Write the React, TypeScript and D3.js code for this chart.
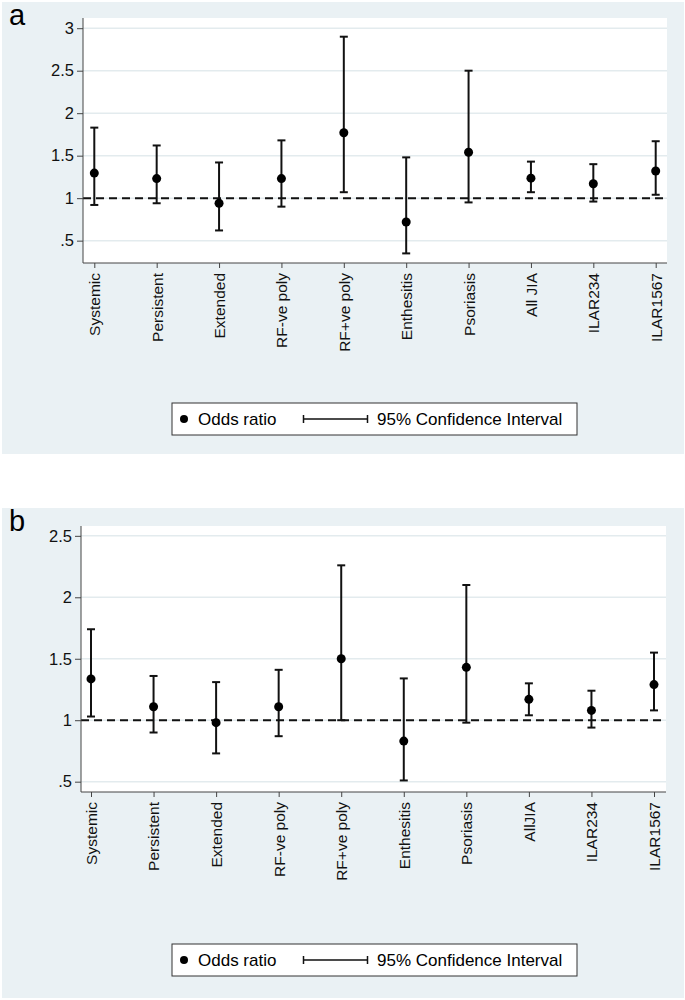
import { useEffect, useRef } from 'react';
import * as d3 from 'd3';

const groupsA = ['Systemic', 'Persistent', 'Extended', 'RF-ve poly', 'RF+ve poly', 'Enthesitis', 'Psoriasis', 'All JIA', 'ILAR234', 'ILAR1567'];
const groupsB = ['Systemic', 'Persistent', 'Extended', 'RF-ve poly', 'RF+ve poly', 'Enthesitis', 'Psoriasis', 'AllJIA', 'ILAR234', 'ILAR1567'];

const orA = [1.295, 1.23, 0.94, 1.23, 1.77, 0.72, 1.54, 1.235, 1.17, 1.32];
const loA = [0.92, 0.94, 0.62, 0.9, 1.07, 0.35, 0.95, 1.07, 0.96, 1.04];
const hiA = [1.83, 1.62, 1.42, 1.68, 2.9, 1.48, 2.5, 1.43, 1.4, 1.67];

const orB = [1.336, 1.11, 0.98, 1.11, 1.5, 0.83, 1.43, 1.17, 1.08, 1.29];
const loB = [1.03, 0.9, 0.73, 0.87, 1.0, 0.51, 0.98, 1.04, 0.94, 1.08];
const hiB = [1.74, 1.36, 1.31, 1.41, 2.26, 1.34, 2.1, 1.3, 1.24, 1.55];

const ticksA = [0.5, 1, 1.5, 2, 2.5, 3];
const ticksB = [0.5, 1, 1.5, 2, 2.5];

const FONT = '"Liberation Sans", Arial, Helvetica, sans-serif';
const BG = '#eaf1f4';
const GRID = '#e3ebee';

const fmt = (v) => (v < 1 ? String(v).replace(/^0/, '') : String(v));

function Panel({ letter, groups, or, lo, hi, ticks, domain, top, box, plot }) {
  const ref = useRef<SVGGElement>(null);

  useEffect(() => {
    if (!ref.current) return;
    const g = d3.select(ref.current);
    g.selectAll('*').remove();

    // panel background
    g.append('rect').attr('x', box.x).attr('y', box.y).attr('width', box.w).attr('height', box.h).attr('fill', BG);
    g.append('text').attr('x', box.x + 7).attr('y', box.y + 23).attr('font-size', 29).attr('font-family', FONT).text(letter);

    const x = d3.scalePoint().domain(groups).range([plot.x0, plot.x1]);
    const y = d3.scaleLinear().domain(domain).range([plot.bottom, plot.top]);

    g.append('rect').attr('x', plot.left).attr('y', plot.top).attr('width', plot.right - plot.left).attr('height', plot.bottom - plot.top).attr('fill', '#fff');

    g.selectAll('line.grid').data(ticks).enter().append('line').attr('class', 'grid')
      .attr('x1', plot.left).attr('x2', plot.right).attr('y1', (d) => y(d)).attr('y2', (d) => y(d))
      .attr('stroke', GRID).attr('stroke-width', 1.5);

    g.append('line').attr('x1', plot.left).attr('x2', plot.right).attr('y1', y(1)).attr('y2', y(1))
      .attr('stroke', '#111').attr('stroke-width', 2).attr('stroke-dasharray', '8,5');

    // axes
    const ya = g.append('g').attr('transform', `translate(${plot.left},0)`)
      .call(d3.axisLeft(y).tickValues(ticks).tickSize(6).tickPadding(3).tickFormat(fmt));
    ya.select('.domain').attr('d', `M0,${plot.top}V${plot.bottom}`).attr('stroke', '#444');
    ya.selectAll('line').attr('stroke', '#444');
    ya.selectAll('text').attr('font-size', 16.5).attr('font-family', FONT).attr('fill', '#111');

    const xa = g.append('g').attr('transform', `translate(0,${plot.bottom})`)
      .call(d3.axisBottom(x).tickSize(5).tickPadding(0));
    xa.select('.domain').attr('d', `M${plot.left},0H${plot.right}`).attr('stroke', '#444');
    xa.selectAll('line').attr('stroke', '#444');
    xa.selectAll('text').attr('font-size', 15.5).attr('font-family', FONT).attr('fill', '#111')
      .attr('transform', 'rotate(-90)').attr('text-anchor', 'end').attr('x', -10).attr('y', 0).attr('dy', '0.35em');

    // CI bars
    const idx = d3.range(groups.length);
    const bars = g.append('g').attr('stroke', '#111').attr('stroke-width', 2).attr('fill', 'none');
    bars.selectAll('line.v').data(idx).enter().append('line')
      .attr('x1', (i) => x(groups[i])).attr('x2', (i) => x(groups[i])).attr('y1', (i) => y(lo[i])).attr('y2', (i) => y(hi[i]));
    [lo, hi].forEach((arr) => {
      bars.selectAll(null).data(idx).enter().append('line')
        .attr('x1', (i) => x(groups[i]) - 4).attr('x2', (i) => x(groups[i]) + 4).attr('y1', (i) => y(arr[i])).attr('y2', (i) => y(arr[i]));
    });
    g.selectAll('circle.pt').data(idx).enter().append('circle')
      .attr('cx', (i) => x(groups[i])).attr('cy', (i) => y(or[i])).attr('r', 4.5).attr('fill', '#000');

    // legend
    const lg = g.append('g').attr('transform', `translate(172,${top})`);
    lg.append('rect').attr('width', 405).attr('height', 32).attr('fill', '#fff').attr('stroke', '#333').attr('stroke-width', 1);
    lg.append('circle').attr('cx', 12).attr('cy', 16).attr('r', 4).attr('fill', '#000');
    lg.append('text').attr('x', 26).attr('y', 22).attr('font-size', 17).attr('font-family', FONT).text('Odds ratio');
    lg.append('path').attr('d', 'M131,16H196M131.5,12V20M195.5,12V20').attr('stroke', '#111').attr('stroke-width', 1.5).attr('fill', 'none');
    lg.append('text').attr('x', 205).attr('y', 22).attr('font-size', 17).attr('font-family', FONT).text('95% Confidence Interval');
  }, [letter, groups, or, lo, hi, ticks, domain, top, box, plot]);

  return <g ref={ref} />;
}

export default function App() {
  return (
    <svg width={685} height={1000} style={{ position: 'absolute', left: 0, top: 0 }}>
      <rect width={685} height={1000} fill="#fff" />
      <Panel
        letter="a" groups={groupsA} or={orA} lo={loA} hi={hiA} ticks={ticksA}
        domain={[0.237, 3.12]} top={403}
        box={{ x: 2, y: 2, w: 682, h: 452 }}
        plot={{ left: 83, right: 667, top: 18, bottom: 263, x0: 94.3, x1: 655.7 }}
      />
      <Panel
        letter="b" groups={groupsB} or={orB} lo={loB} hi={hiB} ticks={ticksB}
        domain={[0.416, 2.58]} top={944}
        box={{ x: 2, y: 508, w: 682, h: 490 }}
        plot={{ left: 81, right: 666, top: 526, bottom: 792, x0: 91, x1: 654 }}
      />
    </svg>
  );
}
